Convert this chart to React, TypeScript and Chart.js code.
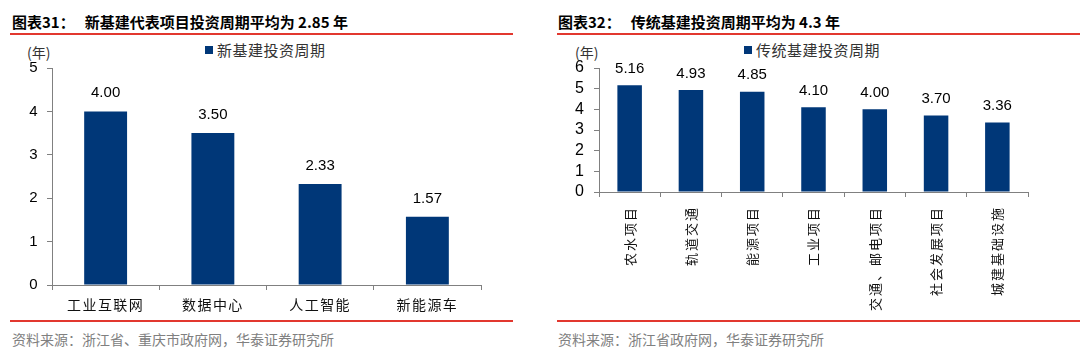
import React, { useEffect, useRef } from "react";
import { Chart, registerables } from "chart.js";

Chart.register(...registerables);

const newCategories = ["工业互联网", "数据中心", "人工智能", "新能源车"];
const newValues = [4.0, 3.5, 2.33, 1.57];
const newTickMax = 5;

const oldCategories = ["农水项目", "轨道交通", "能源项目", "工业项目", "交通、邮电项目", "社会发展项目", "城建基础设施"];
const oldValues = [5.16, 4.93, 4.85, 4.1, 4.0, 3.7, 3.36];
const oldTickMax = 6;

const BAR = "#003778";
const RED = "#E2382F";
const CJK = '"Noto Sans CJK SC", sans-serif';
const LAT = '"Liberation Sans", Arial, sans-serif';

const spacing = {
  id: "spacing",
  beforeDraw(chart: any, _a: any, opts: any) {
    (chart.ctx as any).letterSpacing = `${opts.px || 0}px`;
  },
  beforeDatasetsDraw(chart: any) {
    (chart.ctx as any).letterSpacing = "0px";
  },
};

const valueLabels = {
  id: "valueLabels",
  afterDatasetsDraw(chart: any, _a: any, opts: any) {
    const ctx = chart.ctx;
    const meta = chart.getDatasetMeta(0);
    const data = chart.data.datasets[0].data as number[];
    ctx.save();
    (ctx as any).letterSpacing = "0px";
    ctx.font = `${opts.size || 15}px ${LAT}`;
    ctx.fillStyle = "#000";
    ctx.textAlign = "center";
    ctx.textBaseline = "bottom";
    meta.data.forEach((bar: any, i: number) => {
      ctx.fillText(data[i].toFixed(2), bar.x, bar.y - (opts.gap || 10));
    });
    ctx.restore();
  },
};

type Cfg = {
  labels: string[];
  values: number[];
  max: number;
  yWidth: number;
  xHeight: number;
  padTop: number;
  padRight: number;
  rotate: boolean;
  yFont: number;
  xFont: number;
  xPad: number;
  valSize: number;
  valGap: number;
  spacingPx: number;
};

function BarChart({ cfg, width, height }: { cfg: Cfg; width: number; height: number }) {
  const ref = useRef<HTMLCanvasElement | null>(null);
  useEffect(() => {
    if (!ref.current) return;
    const chart = new Chart(ref.current, {
      type: "bar",
      data: {
        labels: cfg.labels,
        datasets: [
          {
            data: cfg.values,
            backgroundColor: BAR,
            borderWidth: 0,
            categoryPercentage: 1,
            barPercentage: 0.4,
          },
        ],
      },
      options: {
        responsive: false,
        animation: false,
        layout: { padding: { top: cfg.padTop, right: cfg.padRight, left: 0, bottom: 0 } },
        plugins: {
          legend: { display: false },
          tooltip: { enabled: false },
          valueLabels: { size: cfg.valSize, gap: cfg.valGap },
          spacing: { px: cfg.spacingPx },
        } as any,
        scales: {
          x: {
            grid: {
              display: true,
              drawOnChartArea: false,
              drawTicks: true,
              tickLength: 5,
              offset: true,
              color: "#808080",
            },
            border: { display: true, color: "#808080", width: 1 },
            ticks: {
              color: "#111",
              font: { family: CJK, size: cfg.xFont },
              padding: cfg.xPad,
              autoSkip: false,
              maxRotation: cfg.rotate ? 90 : 0,
              minRotation: cfg.rotate ? 90 : 0,
            },
            afterFit: (s: any) => {
              s.height = cfg.xHeight;
            },
          },
          y: {
            min: 0,
            max: cfg.max,
            grid: {
              display: true,
              drawOnChartArea: false,
              drawTicks: true,
              tickLength: 5,
              color: "#808080",
            },
            border: { display: true, color: "#808080", width: 1 },
            ticks: {
              stepSize: 1,
              autoSkip: false,
              color: "#000",
              font: { family: LAT, size: cfg.yFont },
              padding: 8,
            },
            afterFit: (s: any) => {
              s.width = cfg.yWidth;
            },
          },
        },
      },
      plugins: [spacing as any, valueLabels as any],
    });
    return () => chart.destroy();
  }, [cfg]);
  return <canvas ref={ref} width={width} height={height} style={{ width, height, display: "block" }} />;
}

const leftCfg: Cfg = {
  labels: newCategories,
  values: newValues,
  max: newTickMax,
  yWidth: 52,
  xHeight: 35,
  padTop: 28,
  padRight: 49,
  rotate: false,
  yFont: 15,
  xFont: 14,
  xPad: 6,
  valSize: 15,
  valGap: 11,
  spacingPx: 1.5,
};

const rightCfg: Cfg = {
  labels: oldCategories,
  values: oldValues,
  max: oldTickMax,
  yWidth: 59,
  xHeight: 128,
  padTop: 28,
  padRight: 52,
  rotate: true,
  yFont: 16,
  xFont: 13,
  xPad: 9,
  valSize: 15,
  valGap: 9,
  spacingPx: 2,
};

function Panel({
  left,
  title1,
  title2,
  legend,
  source,
  lineLeft,
  lineWidth,
  cfg,
  canvasW,
  titleLeft,
  unitLeft,
  legendLeft,
}: any) {
  return (
    <>
      <div
        style={{
          position: "absolute",
          left: titleLeft,
          top: 12,
          font: `bold 15px ${CJK}`,
          color: "#000",
          whiteSpace: "pre",
          lineHeight: "20px",
        }}
      >
        {title1}
        <span style={{ display: "inline-block", width: 10 }} />
        {title2}
      </div>
      <div style={{ position: "absolute", left: lineLeft, top: 33, width: lineWidth, height: 2, background: RED }} />
      <div
        style={{
          position: "absolute",
          left: unitLeft,
          top: 42,
          font: `14px ${CJK}`,
          color: "#333",
          lineHeight: "20px",
        }}
      >
        (年)
      </div>
      <div
        style={{
          position: "absolute",
          left: legendLeft,
          top: 40,
          display: "flex",
          alignItems: "center",
          font: `15px ${CJK}`,
          color: "#333",
          lineHeight: "20px",
          letterSpacing: "0.5px",
        }}
      >
        <span style={{ display: "inline-block", width: 8, height: 8, background: BAR, marginRight: 4 }} />
        {legend}
      </div>
      <div style={{ position: "absolute", left, top: 40 }}>
        <BarChart cfg={cfg} width={canvasW} height={280} />
      </div>
      <div style={{ position: "absolute", left: lineLeft, top: 320, width: lineWidth, height: 2, background: RED }} />
      <div
        style={{
          position: "absolute",
          left: titleLeft,
          top: 329,
          font: `14px ${CJK}`,
          color: "#808080",
          lineHeight: "20px",
        }}
      >
        {source}
      </div>
    </>
  );
}

export default function App() {
  return (
    <div
      style={{
        position: "absolute",
        left: 0,
        top: 0,
        width: 1080,
        height: 362,
        background: "#fff",
        overflow: "hidden",
      }}
    >
      <Panel
        left={0}
        titleLeft={12}
        title1="图表31："
        title2="新基建代表项目投资周期平均为 2.85 年"
        legend="新基建投资周期"
        source="资料来源：浙江省、重庆市政府网，华泰证券研究所"
        lineLeft={10}
        lineWidth={503}
        cfg={leftCfg}
        canvasW={530}
        unitLeft={27}
        legendLeft={205}
      />
      <Panel
        left={540}
        titleLeft={558}
        title1="图表32："
        title2="传统基建投资周期平均为 4.3 年"
        legend="传统基建投资周期"
        source="资料来源：浙江省政府网，华泰证券研究所"
        lineLeft={557}
        lineWidth={523}
        cfg={rightCfg}
        canvasW={540}
        unitLeft={575}
        legendLeft={744}
      />
    </div>
  );
}
